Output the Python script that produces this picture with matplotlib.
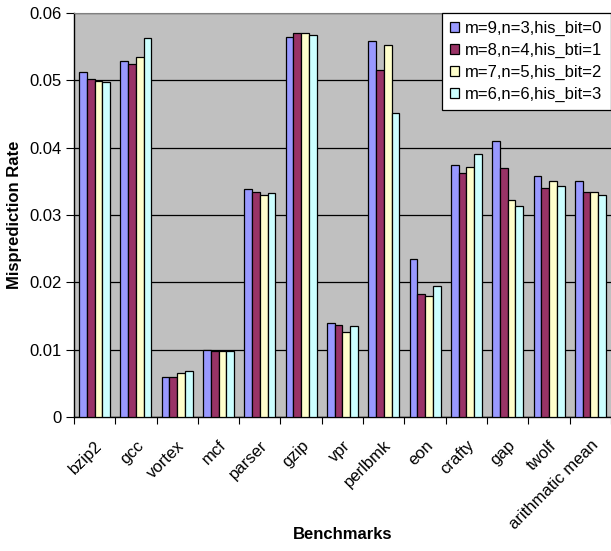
import matplotlib
matplotlib.use('Agg')
import matplotlib.pyplot as plt
import numpy as np

plt.rcParams['font.family'] = ['Liberation Sans', 'DejaVu Sans']

benchmarks = ['bzip2', 'gcc', 'vortex', 'mcf', 'parser', 'gzip', 'vpr',
              'perlbmk', 'eon', 'crafty', 'gap', 'twolf', 'arithmatic mean']
series_names = ['m=9,n=3,his_bit=0', 'm=8,n=4,his_bti=1',
                'm=7,n=5,his_bit=2', 'm=6,n=6,his_bit=3']
m9 = [0.0513, 0.0528, 0.0060, 0.0100, 0.0338, 0.0564, 0.0140,
      0.0559, 0.0235, 0.0374, 0.0410, 0.0358, 0.0350]
m8 = [0.0502, 0.0525, 0.0060, 0.0098, 0.0334, 0.0570, 0.0137,
      0.0515, 0.0182, 0.0363, 0.0370, 0.0340, 0.0334]
m7 = [0.0499, 0.0534, 0.0065, 0.0098, 0.0330, 0.0570, 0.0126,
      0.0553, 0.0180, 0.0372, 0.0323, 0.0350, 0.0334]
m6 = [0.0497, 0.0563, 0.0069, 0.0098, 0.0332, 0.0568, 0.0135,
      0.0452, 0.0195, 0.0390, 0.0314, 0.0343, 0.0329]
colors = ['#9999FF', '#993366', '#FFFFCC', '#CCFFFF']

fig = plt.figure(figsize=(6.11, 5.51), dpi=100)
ax = fig.add_axes([0.121, 0.2432, 0.879, 0.7332])
ax.set_facecolor('#C0C0C0')

x = np.arange(len(benchmarks))
w = 0.1875
for k, (vals, name) in enumerate(zip([m9, m8, m7, m6], series_names)):
    ax.bar(x + (k - 1.5) * w, vals, w, color=colors[k], edgecolor='black',
           linewidth=0.9, label=name, zorder=3)

ax.set_xlim(-0.5, len(benchmarks) - 0.5)
ax.set_ylim(0, 0.06)
ax.set_yticks(np.arange(0, 0.061, 0.01))
ax.set_yticklabels(['0', '0.01', '0.02', '0.03', '0.04', '0.05', '0.06'], fontsize=12)
ax.yaxis.grid(True, color='black', linewidth=0.9, zorder=1)
ax.set_axisbelow(True)

ax.set_xticks(x)
ax.set_xticklabels(benchmarks, rotation=45, ha='right', va='top',
                   rotation_mode='anchor', fontsize=12)
ax.tick_params(axis='x', which='major', length=0, pad=15)
ax.set_xticks(np.arange(-0.5, len(benchmarks)), minor=True)
ax.tick_params(axis='x', which='minor', length=5, width=0.8, direction='out')
ax.tick_params(axis='y', length=6, width=0.8, direction='out', pad=3)

for s in ['left', 'bottom']:
    ax.spines[s].set_color('black')
    ax.spines[s].set_linewidth(1)
ax.spines['top'].set_color('#808080')
ax.spines['right'].set_visible(False)

ax.set_ylabel('Misprediction Rate', fontsize=12, fontweight='bold')
ax.yaxis.set_label_coords(-0.11, 0.5)
ax.yaxis.label.set_va('center')
ax.set_xlabel('Benchmarks', fontsize=12, fontweight='bold')
ax.xaxis.set_label_coords(0.5, -0.29)
ax.xaxis.label.set_va('center')

leg = ax.legend(loc='upper right', bbox_to_anchor=(1.0, 1.0), fontsize=12,
                frameon=True, fancybox=False, edgecolor='black', framealpha=1,
                handlelength=0.55, handleheight=0.55, handletextpad=0.35,
                borderpad=0.5, labelspacing=0.4, borderaxespad=0)
leg.get_frame().set_linewidth(0.9)

fig.savefig('out.png', dpi=100)
